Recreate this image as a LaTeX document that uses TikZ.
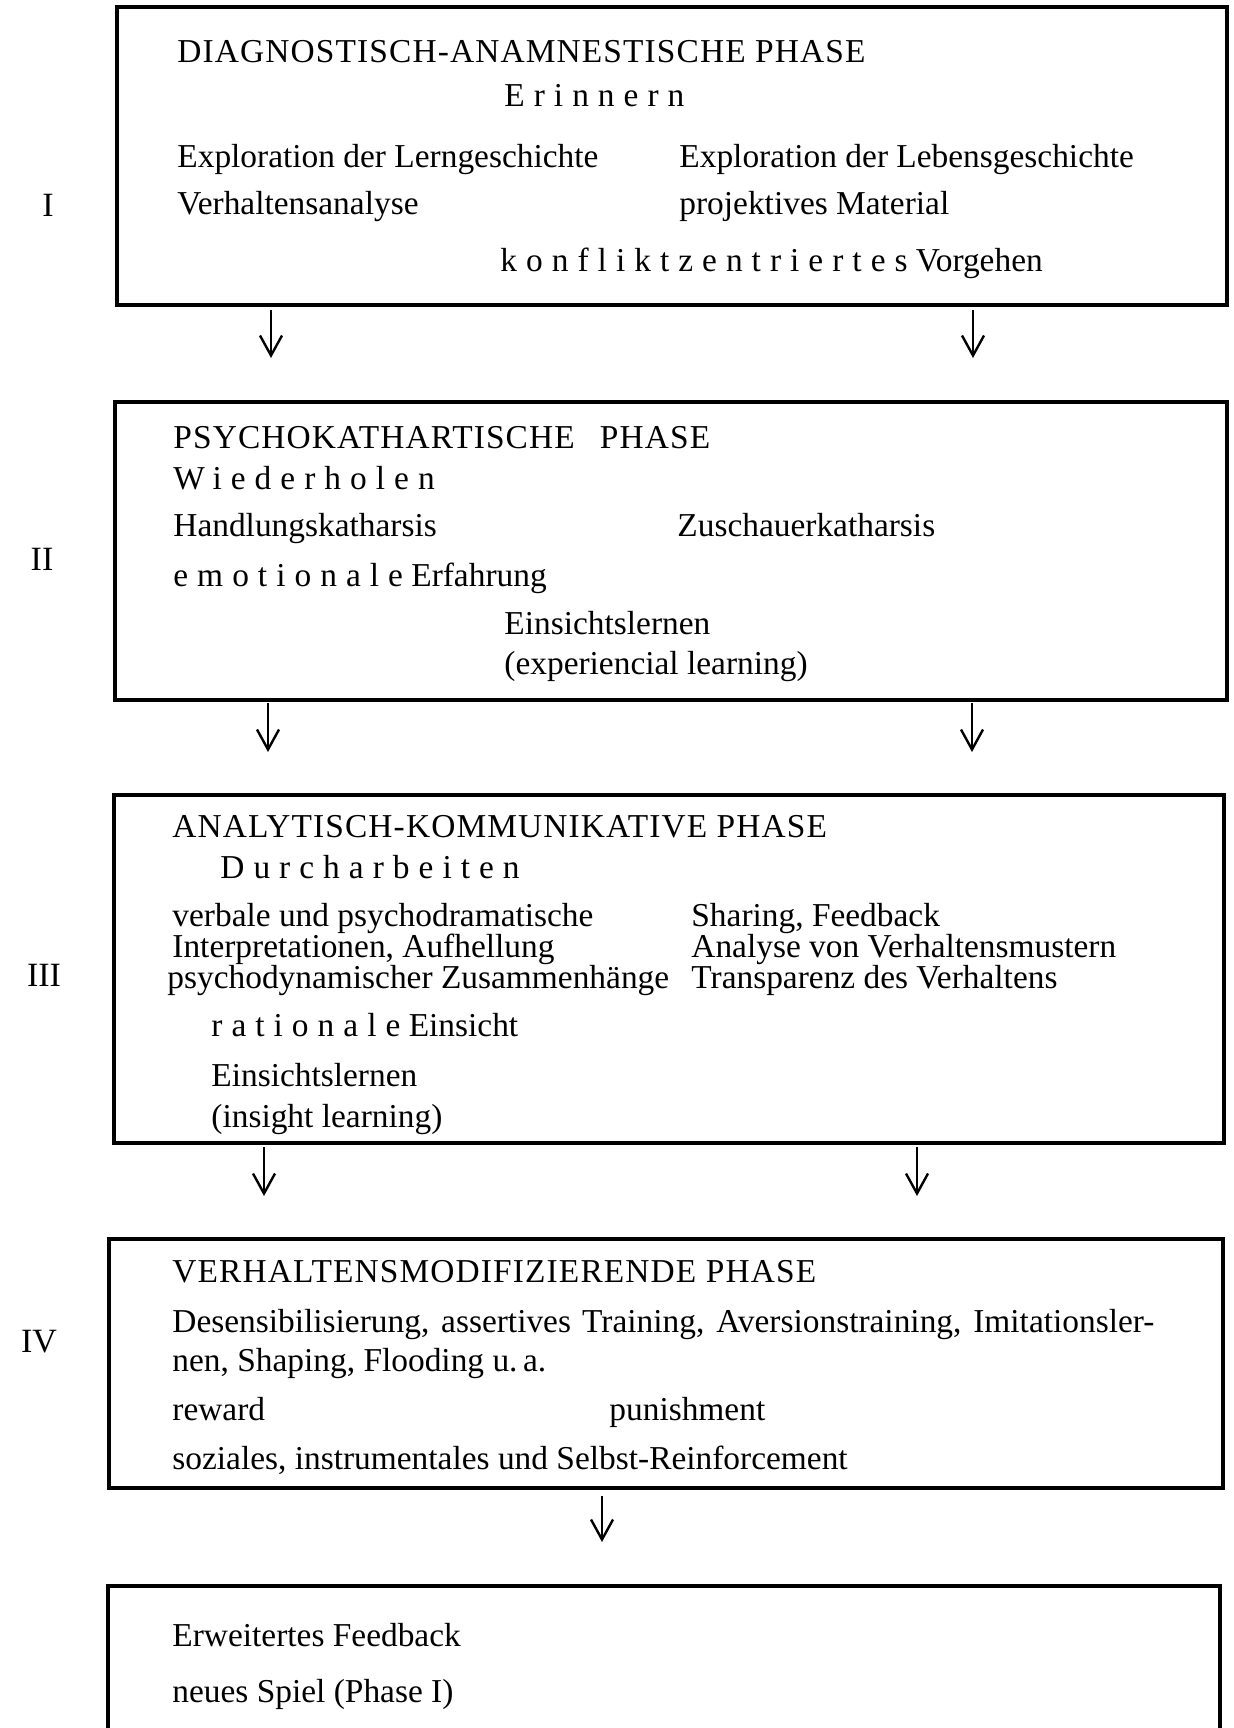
\documentclass[tikz,border=0pt]{standalone}
\usepackage{fontspec}
\setmainfont{Liberation Serif}
\usetikzlibrary{arrows.meta,fit}
\tikzset{
  lbl/.style={anchor=west, inner sep=0pt, text height=0.7em, text depth=0.22em,
              font=\fontsize{16.7}{19}\selectfont},
  ttl/.style={lbl, font=\fontsize{16.7}{19}\selectfont\addfontfeature{LetterSpace=3.4}},
  num/.style={anchor=center, inner sep=0pt, font=\fontsize{17}{19}\selectfont},
  phasebox/.style={inner sep=0pt, outer sep=0pt},
  hedge/.style={line width=2.2pt, line cap=rect},
  vedge/.style={line width=1.8pt},
  arr/.style={line width=0.9pt, -{Straight Barb[length=10pt,width=11pt,line width=1.2pt]}},
}
\newcommand\spc[1]{{\addfontfeature{LetterSpace=27}#1}}
\newcommand\phaseframe[1]{%
  \draw[hedge] (#1.north west) -- (#1.north east);
  \draw[hedge] (#1.south west) -- (#1.south east);
  \draw[vedge] (#1.north west) -- (#1.south west);
  \draw[vedge] (#1.north east) -- (#1.south east);}
\begin{document}
\begin{tikzpicture}[x=0.5pt,y=-0.5pt]
\useasboundingbox (0,0) rectangle (1234,1728);
\fill[white] (0,0) rectangle (1234,1728);

% boxes
\node[phasebox, fit={(117,7) (1227,305)}] (B1) {};
\node[phasebox, fit={(115,402) (1227,700)}] (B2) {};
\node[phasebox, fit={(114,795) (1224,1143)}] (B3) {};
\node[phasebox, fit={(109,1239) (1223,1488)}] (B4) {};
\node[phasebox, fit={(108,1586) (1220,1728)}] (B5) {};
\phaseframe{B1}
\phaseframe{B2}
\phaseframe{B3}
\phaseframe{B4}
\draw[hedge] (B5.north west) -- (B5.north east);
\draw[vedge] (B5.north west) -- (B5.south west);
\draw[vedge] (B5.north east) -- (B5.south east);

% roman numerals
\node[num] (n1) at (48,205) {I};
\node[num] (n2) at (42,559) {II};
\node[num] (n3) at (44,975) {III};
\node[num] (n4) at (39,1342) {IV};

% box 1
\node[ttl] (t1) at (177,58) {DIAGNOSTISCH-ANAMNESTISCHE PHASE};
\node[lbl] (e1) at (504,102) {\spc{Erinnern}};
\node[lbl] (a1) at (177,163) {Exploration der Lerngeschichte};
\node[lbl] (b1) at (679,163) {Exploration der Lebensgeschichte};
\node[lbl] (c1) at (177,210) {Verhaltensanalyse};
\node[lbl] (d1) at (679,210) {projektives Material};
\node[lbl] (k1) at (500,267) {\spc{konfliktzentriertes} Vorgehen};

% box 2
\node[ttl] (t2) at (173,444) {PSYCHOKATHARTISCHE\hspace{0.75em}PHASE};
\node[lbl] (w2) at (173,485) {\spc{Wiederholen}};
\node[lbl] (h2) at (173,532) {Handlungskatharsis};
\node[lbl] (z2) at (677,532) {Zuschauerkatharsis};
\node[lbl] (m2) at (173,582) {\spc{emotionale} Erfahrung};
\node[lbl] (i2) at (504,630) {Einsichtslernen};
\node[lbl] (x2) at (504,670) {(experiencial learning)};

% box 3
\node[ttl] (t3) at (172,833) {ANALYTISCH-KOMMUNIKATIVE PHASE};
\node[lbl] (d3) at (220,874) {\spc{Durcharbeiten}};
\node[lbl] (v3) at (172,922) {verbale und psychodramatische};
\node[lbl] (s3) at (691,922) {Sharing, Feedback};
\node[lbl] (p3) at (172,953) {Interpretationen, Aufhellung};
\node[lbl] (a3) at (691,953) {Analyse von Verhaltensmustern};
\node[lbl] (q3) at (167,984) {psychodynamischer Zusammenhänge};
\node[lbl] (r3) at (691,984) {Transparenz des Verhaltens};
\node[lbl] (o3) at (211,1032) {\spc{rationale} Einsicht};
\node[lbl] (i3) at (211,1082) {Einsichtslernen};
\node[lbl] (g3) at (211,1123) {(insight learning)};

% box 4
\node[ttl] (t4) at (172,1278) {VERHALTENSMODIFIZIERENDE PHASE};
\node[lbl] (d4) at (172,1328) {\makebox[491pt][s]{Desensibilisierung, assertives Training, Aversionstraining, Imitationsler-}};
\node[lbl] (f4) at (172,1367) {nen, Shaping, Flooding u.\,a.};
\node[lbl] (r4) at (172,1416) {reward};
\node[lbl] (p4) at (609,1416) {punishment};
\node[lbl] (s4) at (172,1465) {soziales, instrumentales und Selbst-Reinforcement};

% box 5
\node[lbl] (e5) at (172,1642) {Erweitertes Feedback};
\node[lbl] (n5) at (172,1698) {neues Spiel (Phase I)};

% arrows
\coordinate (xa1) at (271,0);
\coordinate (xb1) at (973,0);
\coordinate (xa2) at (268,0);
\coordinate (xb2) at (972,0);
\coordinate (xa3) at (264,0);
\coordinate (xb3) at (917,0);
\coordinate (xc4) at (602,0);
\draw[arr, shorten <=2.5pt, shorten >=22pt] (B1.south -| xa1) -- (B2.north -| xa1);
\draw[arr, shorten <=2.5pt, shorten >=22pt] (B1.south -| xb1) -- (B2.north -| xb1);
\draw[arr, shorten <=1.5pt, shorten >=21.5pt] (B2.south -| xa2) -- (B3.north -| xa2);
\draw[arr, shorten <=1.5pt, shorten >=21.5pt] (B2.south -| xb2) -- (B3.north -| xb2);
\draw[arr, shorten <=2pt, shorten >=21.5pt] (B3.south -| xa3) -- (B4.north -| xa3);
\draw[arr, shorten <=2pt, shorten >=21.5pt] (B3.south -| xb3) -- (B4.north -| xb3);
\draw[arr, shorten <=4pt, shorten >=22pt] (B4.south -| xc4) -- (B5.north -| xc4);
\end{tikzpicture}
\end{document}
